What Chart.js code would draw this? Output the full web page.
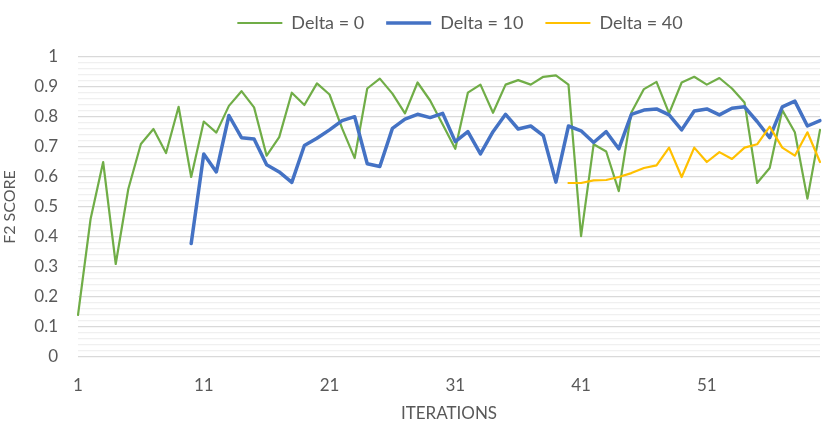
<!DOCTYPE html>
<html>
<head>
<meta charset="utf-8">
<script src="https://cdn.jsdelivr.net/npm/chart.js@4.4.1/dist/chart.umd.min.js"></script>
<style>
  html, body { margin: 0; padding: 0; background: #fff; }
  #wrap { width: 830px; height: 432px; }
</style>
</head>
<body>
<div id="wrap"><canvas id="f2Chart"></canvas></div>
<script>
'use strict';

// categories (iterations 1..60)
const iterations = [
  '1','2','3','4','5','6','7','8','9','10',
  '11','12','13','14','15','16','17','18','19','20',
  '21','22','23','24','25','26','27','28','29','30',
  '31','32','33','34','35','36','37','38','39','40',
  '41','42','43','44','45','46','47','48','49','50',
  '51','52','53','54','55','56','57','58','59','60'
];
const shownIterations = ['1', '11', '21', '31', '41', '51'];

// series values
const deltaZero = [
  0.14, 0.46, 0.65, 0.31, 0.56, 0.71, 0.76, 0.68, 0.834, 0.60,
  0.785, 0.748, 0.837, 0.886, 0.832, 0.671, 0.733, 0.881, 0.84, 0.912,
  0.875, 0.762, 0.663, 0.895, 0.928, 0.878, 0.812, 0.915, 0.855, 0.775,
  0.694, 0.881, 0.908, 0.814, 0.908, 0.923, 0.908, 0.934, 0.939, 0.908,
  0.403, 0.709, 0.685, 0.553, 0.815, 0.893, 0.917, 0.812, 0.915, 0.934,
  0.908, 0.93, 0.895, 0.848, 0.58, 0.63, 0.823, 0.749, 0.528, 0.757
];
const deltaTen = [
  null, null, null, null, null, null, null, null, null, 0.378,
  0.677, 0.617, 0.805, 0.731, 0.727, 0.641, 0.617, 0.582, 0.705, 0.729,
  0.757, 0.788, 0.801, 0.644, 0.635, 0.762, 0.793, 0.809, 0.798, 0.812,
  0.718, 0.751, 0.677, 0.751, 0.809, 0.76, 0.77, 0.738, 0.583, 0.77,
  0.754, 0.715, 0.751, 0.694, 0.809, 0.823, 0.827, 0.807, 0.757, 0.82,
  0.827, 0.807, 0.829, 0.834, 0.785, 0.731, 0.834, 0.853, 0.77, 0.788
];
const deltaForty = [
  null, null, null, null, null, null, null, null, null, null,
  null, null, null, null, null, null, null, null, null, null,
  null, null, null, null, null, null, null, null, null, null,
  null, null, null, null, null, null, null, null, null, 0.58,
  0.58, 0.589, 0.59, 0.60, 0.613, 0.63, 0.639, 0.698, 0.60, 0.698,
  0.65, 0.683, 0.66, 0.698, 0.709, 0.768, 0.698, 0.671, 0.749, 0.65
];

// y ticks: labelled every 0.1, light minor lines every 0.02
const yMajorTicks = ['0', '0.1', '0.2', '0.3', '0.4', '0.5', '0.6', '0.7', '0.8', '0.9', '1'];

const FONT = 'Lato, "Open Sans", sans-serif';
const TEXT = '#595959';

function isMajor(v) {
  return Math.round(v * 50) % 5 === 0;
}

// nudge the legend so it sits over the plot like in Excel
const legendShift = {
  id: 'legendShift',
  afterLayout(chart) {
    const lg = chart.legend;
    lg.left += 50;
    lg.right += 50;
    lg.top -= 15;
    lg.bottom -= 15;
  }
};

const ctx = document.getElementById('f2Chart').getContext('2d');
new Chart(ctx, {
  type: 'line',
  data: {
    labels: iterations,
    datasets: [{
      label: 'Delta = 0',
      data: deltaZero,
      borderColor: '#70AD47',
      backgroundColor: '#70AD47',
      borderWidth: 2.2,
      order: 3
    }, {
      label: 'Delta = 10',
      data: deltaTen,
      borderColor: '#4472C4',
      backgroundColor: '#4472C4',
      borderWidth: 3.5,
      order: 2
    }, {
      label: 'Delta = 40',
      data: deltaForty,
      borderColor: '#FFC000',
      backgroundColor: '#FFC000',
      borderWidth: 2.2,
      order: 1
    }]
  },
  options: {
    responsive: true,
    maintainAspectRatio: false,
    animation: false,
    layout: { padding: { top: 7, right: 10, bottom: 0, left: 0 } },
    elements: {
      point: { radius: 0, hoverRadius: 0 },
      line: { tension: 0, borderJoinStyle: 'round', borderCapStyle: 'round', spanGaps: false }
    },
    plugins: {
      tooltip: { enabled: false },
      legend: {
        position: 'top',
        labels: {
          usePointStyle: true,
          pointStyle: 'line',
          pointStyleWidth: 45,
          boxHeight: 17,
          padding: 22,
          color: TEXT,
          font: { family: FONT, size: 18 },
          sort: (a, b) => a.datasetIndex - b.datasetIndex
        }
      }
    },
    scales: {
      x: {
        offset: false,
        grid: { display: false, drawTicks: false },
        border: { display: false },
        ticks: {
          autoSkip: false,
          maxRotation: 0,
          padding: 18,
          color: TEXT,
          font: { family: FONT, size: 17 },
          callback: function (value) {
            const lab = this.getLabelForValue(value);
            return shownIterations.includes(lab) ? lab : '';
          }
        },
        title: {
          display: true,
          text: 'ITERATIONS',
          color: TEXT,
          font: { family: FONT, size: 17 },
          padding: { top: 6, bottom: 8 }
        },
        afterFit: (scale) => {
          scale.height = 75;
          scale.paddingLeft = 0;
          scale.paddingRight = 0;
        }
      },
      y: {
        min: 0,
        max: 1,
        grid: {
          drawTicks: false,
          color: (c) => isMajor(c.tick.value) ? '#D9D9D9' : '#F0F0F0',
          lineWidth: 1.3
        },
        border: { display: false },
        ticks: {
          stepSize: 0.02,
          maxTicksLimit: 60,
          autoSkip: false,
          padding: 20,
          color: TEXT,
          font: { family: FONT, size: 17 },
          callback: (value) => {
            if (!isMajor(value)) return '';
            return yMajorTicks[Math.round(value * 10)];
          }
        },
        title: {
          display: true,
          text: 'F2 SCORE',
          color: TEXT,
          font: { family: FONT, size: 16 },
          padding: { top: 0, bottom: 4 }
        },
        afterFit: (scale) => { scale.width = 78; }
      }
    }
  },
  plugins: [legendShift]
});
</script>
</body>
</html>
